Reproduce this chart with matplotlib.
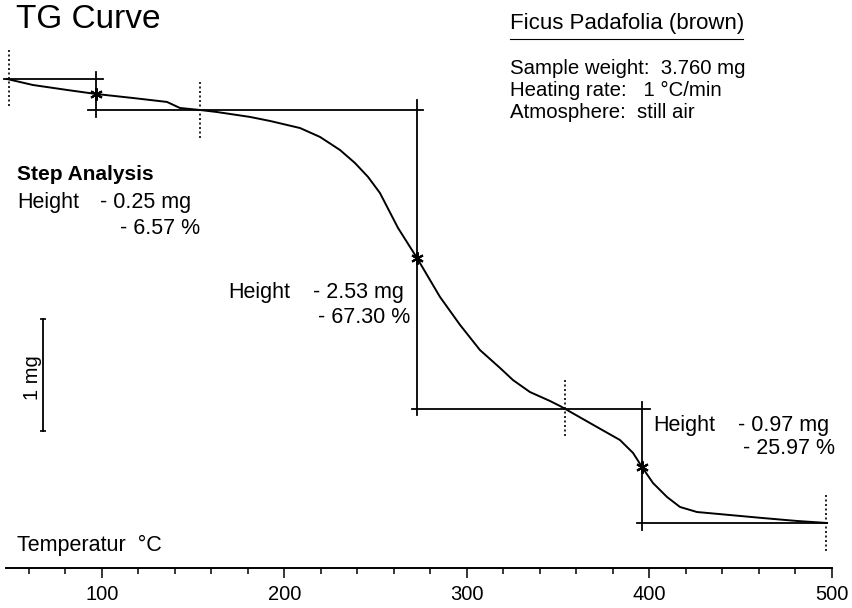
import numpy as np
import matplotlib
matplotlib.use("Agg")
import matplotlib.pyplot as plt

plt.rcParams['font.family'] = ['Liberation Sans', 'DejaVu Sans']

# TG curve: temperature (°C) and weight change (mg, relative to start)
temp = [47.9, 62.2, 80.8, 96.7, 117.0, 135.6, 142.7, 153.7, 163.0, 181.1,
        192.1, 208.5, 219.5, 230.4, 238.6, 245.8, 252.3, 262.2, 272.6, 285.2,
        296.2, 307.1, 318.1, 325.2, 334.5, 345.5, 351.0, 354.8, 371.2, 383.8,
        391.0, 395.9, 401.9, 409.6, 416.7, 426.0, 444.1, 462.2, 480.8, 497.3]
dmass = [0.0, -0.054, -0.098, -0.134, -0.170, -0.205, -0.259, -0.277, -0.295, -0.339,
         -0.375, -0.438, -0.518, -0.634, -0.750, -0.875, -1.018, -1.330, -1.598, -1.946,
         -2.196, -2.420, -2.580, -2.688, -2.795, -2.875, -2.920, -2.955, -3.107, -3.223,
         -3.339, -3.464, -3.607, -3.732, -3.821, -3.866, -3.893, -3.920, -3.946, -3.964]

# step analysis
step_T = [96.7, 272.6, 395.9]          # inflection points
step_mid = [-0.134, -1.598, -3.464]    # weight at inflection
# horizontal tangent lines: (level, T from, T to)
hlines = [(0.0, 46.4, 100.5), (-0.277, 92.3, 275.9),
          (-2.946, 269.9, 400.3), (-3.964, 393.2, 497.3)]
# vertical step lines: (T, top, bottom)
vlines = [(96.7, 0.0625, -0.339), (272.6, -0.19, -3.0), (395.9, -2.884, -4.027)]
# dotted limits: (T, top, bottom)
dotted = [(49.0, 0.26, -0.259), (153.7, -0.027, -0.545),
          (353.7, -2.688, -3.196), (496.7, -3.714, -4.223)]

x_major = [100, 200, 300, 400, 500]
x_minor = [t for t in range(60, 500, 20) if t % 100 != 0]

fig = plt.figure(figsize=(8.52, 6.08), dpi=100)
ax = fig.add_axes([0, 0, 1, 1])
ax.set_xlim(44.11, 510.96)
ax.set_ylim(-4.723, 0.705)

ax.plot(temp, dmass, color='black', lw=1.4)

for lev, t0, t1 in hlines:
    ax.plot([t0, t1], [lev, lev], color='black', lw=1.3)
for t, top, bot in vlines:
    ax.plot([t, t], [top, bot], color='black', lw=1.3)
for t, top, bot in dotted:
    ax.plot([t, t], [top, bot], color='black', lw=1.2, ls=(0, (1.2, 1.5)))
ax.plot(step_T, step_mid, ls='none', marker=(6, 2, 0), ms=9, mew=1.5, color='black')

# 1 mg scale bar
ax.plot([67.7, 67.7], [-2.143, -3.143], color='black', lw=1.3,
        marker='_', ms=5, mew=1.2)

# temperature axis
for s in ['top', 'left', 'right']:
    ax.spines[s].set_visible(False)
ax.spines['bottom'].set_position(('data', -4.366))
ax.spines['bottom'].set_bounds(47.5, 500)
ax.spines['bottom'].set_linewidth(1.4)
ax.set_xticks(x_major)
ax.set_xticks(x_minor, minor=True)
ax.set_yticks([])
ax.tick_params(axis='x', which='major', direction='out', length=7.5, width=1.1,
               pad=5, labelsize=14.5)
ax.tick_params(axis='x', which='minor', direction='out', length=4.3, width=1.1)

W, H = 852.0, 608.0
def txt(x, y, s, **kw):
    fig.text(x / W, 1 - y / H, s, va='center', **kw)

txt(16, 19, 'TG Curve', fontsize=24)
txt(510, 23, 'Ficus Padafolia (brown)', fontsize=16)
fig.add_artist(plt.Line2D([510 / W, 743 / W], [1 - 39 / H, 1 - 39 / H],
                          color='black', lw=0.8))
txt(510, 68, 'Sample weight:  3.760 mg', fontsize=14.7)
txt(510, 90, 'Heating rate:   1 °C/min', fontsize=14.7)
txt(510, 112, 'Atmosphere:  still air', fontsize=14.7)

txt(17, 175, 'Step Analysis', fontsize=15, fontweight='bold')
txt(17, 203, 'Height', fontsize=15.5)
txt(100, 203, '- 0.25 mg', fontsize=15.5)
txt(120, 229, '- 6.57 %', fontsize=15.5)

txt(228, 293, 'Height', fontsize=15.5)
txt(313, 293, '- 2.53 mg', fontsize=15.5)
txt(318, 317, '- 67.30 %', fontsize=15.5)

txt(653, 425, 'Height', fontsize=15.5)
txt(738, 425, '- 0.97 mg', fontsize=15.5)
txt(743, 448, '- 25.97 %', fontsize=15.5)

fig.text(32 / W, 1 - 378 / H, '1 mg', rotation=90, ha='center', va='center', fontsize=14.5)
txt(17, 545, 'Temperatur  °C', fontsize=15.5)

fig.savefig('out.png', dpi=100)
